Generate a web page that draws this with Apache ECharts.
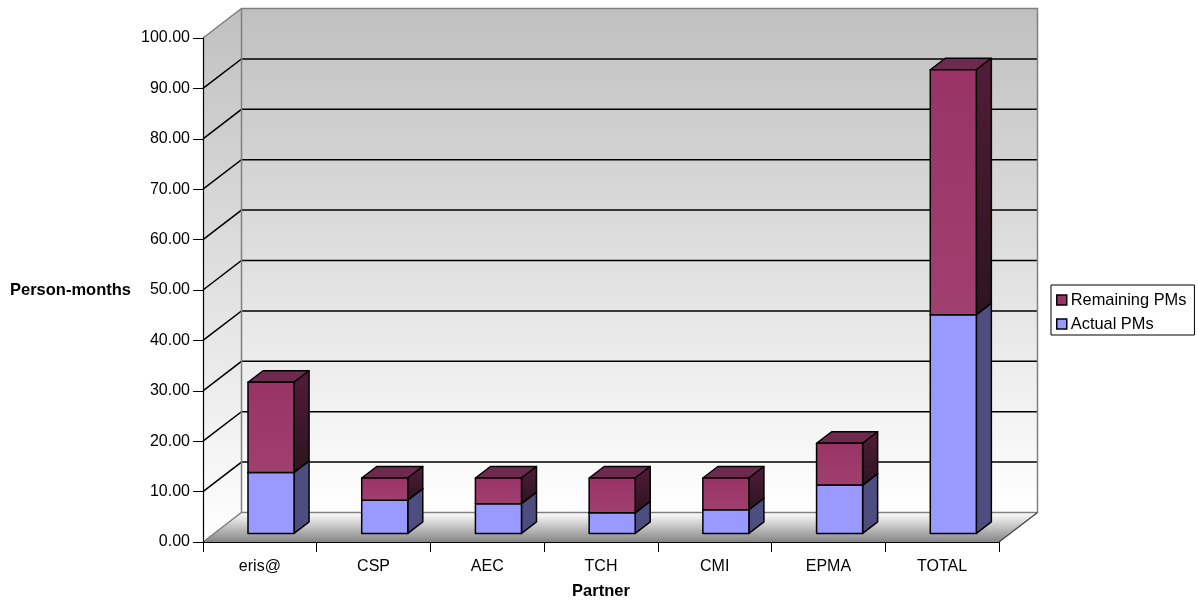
<!DOCTYPE html>
<html>
<head>
<meta charset="utf-8">
<style>html,body{margin:0;padding:0;background:#fff}#c{width:1198px;height:602px}</style>
<script src="https://cdn.jsdelivr.net/npm/echarts@6/dist/echarts.min.js"></script>
</head>
<body>
<div id="c"></div>
<script>
const categories = ['eris@', 'CSP', 'AEC', 'TCH', 'CMI', 'EPMA', 'TOTAL'];
const actualPMs = [12.1, 6.6, 5.9, 4.1, 4.7, 9.6, 43.4];
const remainingPMs = [17.9, 4.4, 5.1, 6.9, 6.3, 8.3, 48.6];
const gridValues = [10, 20, 30, 40, 50, 60, 70, 80, 90];

const DX = 38.5, DY = -29.5;          // full depth of the 3D box
const BAR_FRONT = 0.29, BAR_BACK = 0.68, BAR_WIDTH = 0.405;

const vGrad = (a, b) => new echarts.graphic.LinearGradient(0, 0, 0, 1, [{offset: 0, color: a}, {offset: 1, color: b}]);

function renderWalls(params, api) {
  if (params.dataIndex !== 0) return null;
  const band = api.size([1, 0])[0];
  const at = (v) => { const c = api.coord([0, v]); return [c[0] - band / 2, c[1]]; };
  const bl = at(0), tl = at(100);
  const W = band * categories.length;
  const br = [bl[0] + W, bl[1]];
  const bk = (p) => [p[0] + DX, p[1] + DY];
  const wallFill = vGrad('#c0c0c0', '#ffffff');
  const edge = {stroke: '#808080', lineWidth: 1.5};
  const kids = [];
  const poly = (pts, fill) => ({type: 'polygon', shape: {points: pts}, style: {fill: fill, stroke: null}});
  kids.push(poly([tl, bk(tl), bk(bl), bl], wallFill));
  kids.push({type: 'rect', shape: {x: bk(tl)[0], y: bk(tl)[1], width: W, height: bl[1] - tl[1]}, style: {fill: wallFill}});
  kids.push(poly([bl, br, bk(br), bk(bl)], vGrad('#ffffff', '#858585')));
  gridValues.forEach(v => {
    const f = at(v);
    kids.push({type: 'polyline', shape: {points: [f, bk(f), [bk(f)[0] + W, bk(f)[1]]]}, style: {stroke: '#000', lineWidth: 1.5, fill: null}});
  });
  const tr = [bk(tl)[0] + W, bk(tl)[1]];
  kids.push({type: 'polyline', shape: {points: [tl, bk(tl), tr, bk(br)]}, style: Object.assign({fill: null}, edge)});
  kids.push({type: 'line', shape: {x1: bk(tl)[0], y1: bk(tl)[1], x2: bk(bl)[0], y2: bk(bl)[1]}, style: edge});
  kids.push({type: 'polyline', shape: {points: [bl, bk(bl), bk(br)]}, style: Object.assign({fill: null}, edge)});
  kids.push({type: 'line', shape: {x1: br[0], y1: br[1], x2: bk(br)[0], y2: bk(br)[1]}, style: {stroke: '#404040', lineWidth: 1.2}});
  return {type: 'group', children: kids};
}

function barRenderer(style) {
  return function (params, api) {
    const i = api.value(0), from = api.value(1), to = api.value(2);
    const w = api.size([1, 0])[0] * BAR_WIDTH;
    const a = api.coord([i, from]), b = api.coord([i, to]);
    const ox = BAR_FRONT * DX, oy = BAR_FRONT * DY;
    const dx = (BAR_BACK - BAR_FRONT) * DX, dy = (BAR_BACK - BAR_FRONT) * DY;
    const x0 = a[0] + ox - w / 2, x1 = x0 + w, yb = a[1] + oy, yt = b[1] + oy;
    const line = {stroke: '#000', lineWidth: 1.5, lineJoin: 'round'};
    const mk = (pts, fill) => ({type: 'polygon', shape: {points: pts}, style: Object.assign({fill: fill}, line)});
    return {type: 'group', children: [
      mk([[x0, yt], [x1, yt], [x1 + dx, yt + dy], [x0 + dx, yt + dy]], style.top),
      mk([[x1, yt], [x1 + dx, yt + dy], [x1 + dx, yb + dy], [x1, yb]], style.side),
      mk([[x0, yt], [x1, yt], [x1, yb], [x0, yb]], style.front)
    ]};
  };
}

const actualRows = categories.map((c, i) => [i, 0, actualPMs[i]]);
const remainingRows = categories.map((c, i) => [i, actualPMs[i], actualPMs[i] + remainingPMs[i]]);
const font = 'Liberation Sans';

const chart = echarts.init(document.getElementById('c'), null, {renderer: 'canvas'});
chart.setOption({
  animation: false,
  backgroundColor: '#ffffff',
  grid: {left: 203, right: 199, top: 38, bottom: 60, outerBoundsMode: 'none', containLabel: false},
  legend: {
    orient: 'vertical', left: 1051, top: 285, padding: [7, 8, 3, 5],
    backgroundColor: '#fff', borderColor: '#000', borderWidth: 1, borderRadius: 0,
    itemWidth: 10, itemHeight: 10, itemGap: 8,
    textStyle: {fontFamily: font, fontSize: 16.4, color: '#000', padding: [0, 0, 0, -1]},
    data: [
      {name: 'Remaining PMs', icon: 'rect', itemStyle: {color: '#993366', borderColor: '#000', borderWidth: 1.5}},
      {name: 'Actual PMs', icon: 'rect', itemStyle: {color: '#9999ff', borderColor: '#000', borderWidth: 1.5}}
    ]
  },
  xAxis: {
    type: 'category', data: categories, z: 5,
    name: 'Partner', nameLocation: 'middle', nameGap: 41,
    nameTextStyle: {fontFamily: font, fontSize: 16.5, fontWeight: 'bold', color: '#000'},
    axisLine: {lineStyle: {color: '#000', width: 1.2}},
    axisTick: {show: true, length: 10, alignWithLabel: false, lineStyle: {color: '#000', width: 1}},
    axisLabel: {fontFamily: font, fontSize: 16, color: '#000', margin: 17, interval: 0},
    splitLine: {show: false}
  },
  yAxis: {
    type: 'value', min: 0, max: 100, interval: 10, z: 5,
    name: 'Person-months', nameLocation: 'middle', nameRotate: 0, nameGap: 72,
    nameTextStyle: {fontFamily: font, fontSize: 16.5, fontWeight: 'bold', color: '#000'},
    axisLine: {show: true, lineStyle: {color: '#000', width: 1.2}},
    axisTick: {show: true, length: 10, lineStyle: {color: '#000', width: 1}},
    axisLabel: {fontFamily: font, fontSize: 16, color: '#000', margin: 13, padding: [2, 0, 0, 0], formatter: v => v.toFixed(2)},
    splitLine: {show: false}
  },
  series: [
    {type: 'custom', name: 'Walls', z: 1, silent: true, renderItem: renderWalls, data: [[0]], encode: {x: 0, y: 0}},
    {type: 'custom', name: 'Actual PMs', z: 2, itemStyle: {color: '#9999ff'},
      renderItem: barRenderer({front: '#9999ff', side: '#4d4d80', top: '#7a7acc'}),
      data: actualRows, encode: {x: 0, y: [1, 2]}},
    {type: 'custom', name: 'Remaining PMs', z: 3, itemStyle: {color: '#993366'},
      renderItem: barRenderer({front: vGrad('#993366', '#a0406f'), side: vGrad('#521c38', '#2c141f'), top: '#6e2a4e'}),
      data: remainingRows, encode: {x: 0, y: [1, 2]}}
  ]
});
</script>
</body>
</html>
